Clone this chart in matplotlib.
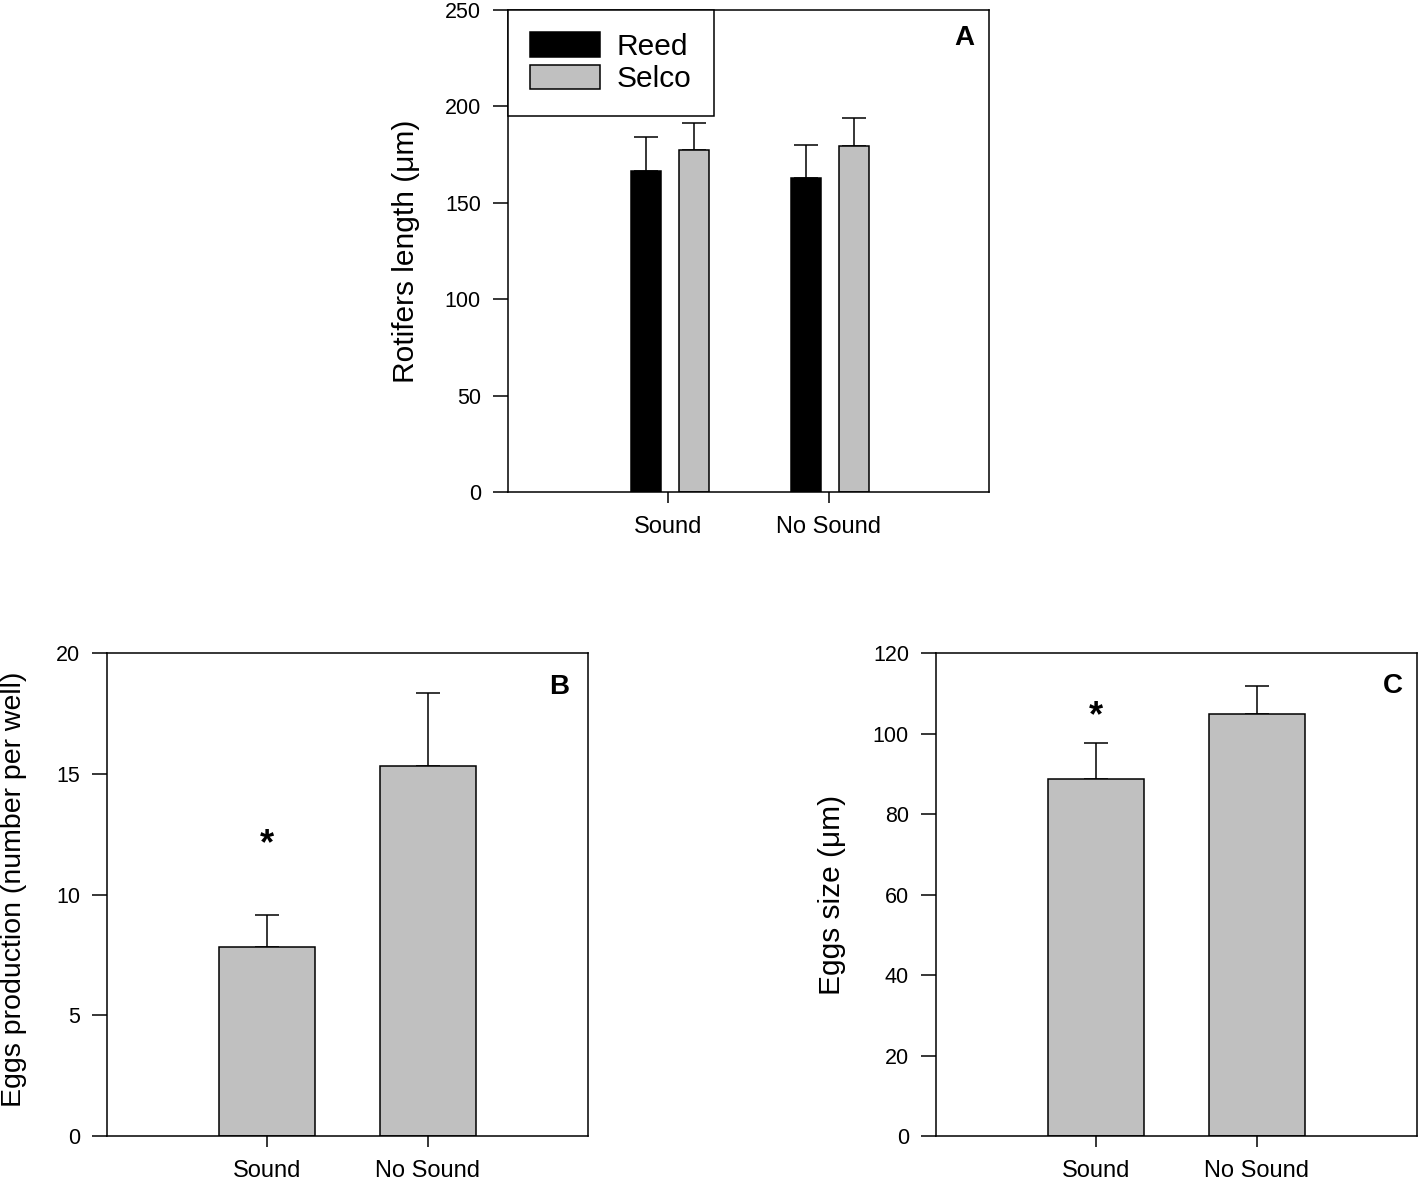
import matplotlib
matplotlib.use('Agg')
from matplotlib import pyplot as plt
import numpy as np

plt.rcParams['font.family'] = ['Liberation Sans', 'DejaVu Sans']

groups = ['Sound', 'No Sound']

# panel A: rotifer length
reed_len = [166.5, 162.9]
reed_err = [17.6, 17.1]
selco_len = [177.4, 179.5]
selco_err = [14.0, 14.5]

# panel B: egg production
eggs_prod = [7.84, 15.32]
eggs_prod_err = [1.30, 3.02]

# panel C: egg size
eggs_size = [88.8, 104.8]
eggs_size_err = [8.9, 7.1]

gray = '#c0c0c0'
lw = 1.1


def style_axis(ax, ymax, ystep):
    ax.set_xlim(-1, 2)
    ax.set_ylim(0, ymax)
    ax.set_yticks(np.arange(0, ymax + 1, ystep))
    ax.set_xticks(range(len(groups)))
    ax.set_xticklabels(groups)
    for s in ax.spines.values():
        s.set_linewidth(lw)
    ax.tick_params(axis='y', direction='out', length=10.5, width=lw, pad=9, labelsize=15.5)
    ax.tick_params(axis='x', direction='out', length=8, width=lw, pad=9, labelsize=17)


fig = plt.figure(figsize=(14.18, 11.8), dpi=100)

axA = fig.add_axes([0.3582, 0.5831, 0.3392, 0.4085])
axB = fig.add_axes([0.07546, 0.03729, 0.3392, 0.4093])
axC = fig.add_axes([0.6601, 0.03729, 0.3392, 0.4093])

# ---- A
x = np.arange(len(groups))
ekw = dict(elinewidth=lw, capthick=lw, ecolor='black', capsize=8.3)
axA.bar(x - 0.14, reed_len, width=0.185, color='black', edgecolor='black',
        linewidth=lw, label='Reed', zorder=2)
axA.errorbar(x - 0.14, reed_len, yerr=[np.zeros(2), reed_err], fmt='none', zorder=1, **ekw)
axA.bar(x + 0.16, selco_len, width=0.185, color=gray, edgecolor='black',
        linewidth=lw, label='Selco', zorder=2)
axA.errorbar(x + 0.16, selco_len, yerr=[np.zeros(2), selco_err], fmt='none', zorder=1, **ekw)
style_axis(axA, 250, 50)
axA.set_ylabel('Rotifers length (μm)', fontsize=21.5)
axA.yaxis.set_label_coords(-0.183, 0.5)
leg = axA.legend(loc='upper left', bbox_to_anchor=(0, 1), borderaxespad=0,
                 fontsize=21.5, handlelength=2.35, handleheight=0.9, handletextpad=0.55,
                 labelspacing=0.12, borderpad=0.75, fancybox=False, framealpha=1)
leg.get_frame().set_edgecolor('black')
leg.get_frame().set_linewidth(lw)
axA.text(0.948, 0.942, 'A', transform=axA.transAxes, ha='center', va='center',
         fontsize=20, fontweight='bold')

# ---- B
axB.bar(x, eggs_prod, width=0.6, color=gray, edgecolor='black', linewidth=lw, zorder=2)
axB.errorbar(x, eggs_prod, yerr=[np.zeros(2), eggs_prod_err], fmt='none', zorder=1, **ekw)
style_axis(axB, 20, 5)
axB.set_ylabel('Eggs production (number per well)', fontsize=20.5)
axB.yaxis.set_label_coords(-0.166, 0.51)
axB.text(0, 12.05, '*', ha='center', va='center', fontsize=26, fontweight='bold')
axB.text(0.94, 0.93, 'B', transform=axB.transAxes, ha='center', va='center',
         fontsize=20, fontweight='bold')

# ---- C
axC.bar(x, eggs_size, width=0.6, color=gray, edgecolor='black', linewidth=lw, zorder=2)
axC.errorbar(x, eggs_size, yerr=[np.zeros(2), eggs_size_err], fmt='none', zorder=1, **ekw)
style_axis(axC, 120, 20)
axC.set_ylabel('Eggs size (μm)', fontsize=21.5)
axC.yaxis.set_label_coords(-0.187, 0.5)
axC.text(0, 104.2, '*', ha='center', va='center', fontsize=26, fontweight='bold')
axC.text(0.95, 0.932, 'C', transform=axC.transAxes, ha='center', va='center',
         fontsize=20, fontweight='bold')

fig.savefig('out.png', dpi=100)
